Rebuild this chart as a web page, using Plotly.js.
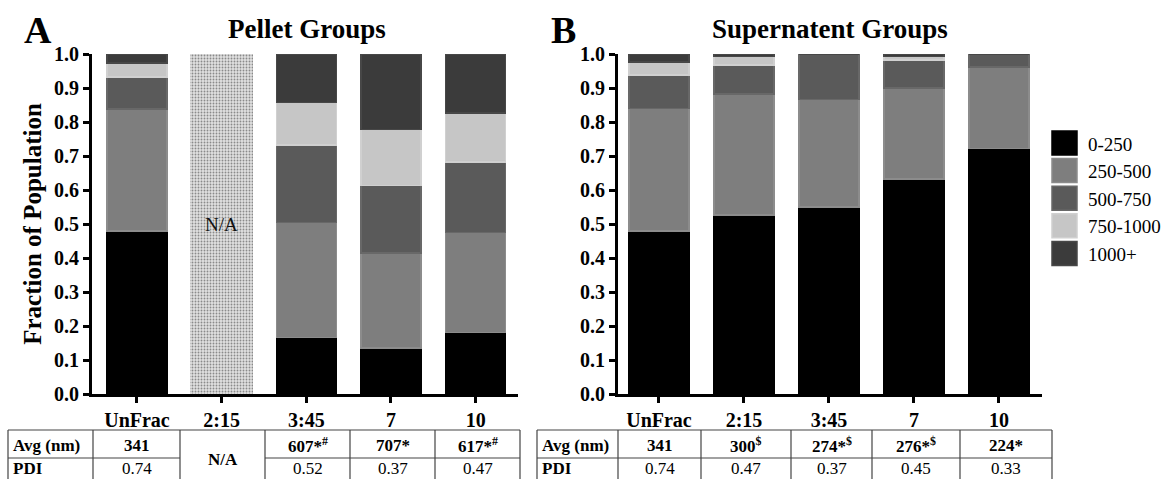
<!DOCTYPE html>
<html>
<head>
<meta charset="utf-8">
<script src="https://cdn.plot.ly/plotly-3.0.1.min.js"></script>
<style>html,body{margin:0;padding:0;background:#fff;}#chart{width:1162px;height:479px;}</style>
</head>
<body>
<div id="chart"></div>
<script>
// ---------------- DATA ----------------
const categories = ["UnFrac", "2:15", "3:45", "7", "10"];
const sizeBins = ["0-250", "250-500", "500-750", "750-1000", "1000+"];
const binColors = ["#000000", "#7e7e7e", "#5a5a5a", "#c6c6c6", "#3b3b3b"];
const binEdgeColors = ["#000000", "#8c8c8c", "#686868", "#d0d0d0", "#474747"];

// Pellet groups (2:15 not available)
const pellet_0_250     = [0.480, null, 0.166, 0.136, 0.181];
const pellet_250_500   = [0.358, null, 0.338, 0.278, 0.294];
const pellet_500_750   = [0.095, null, 0.228, 0.199, 0.208];
const pellet_750_1000  = [0.040, null, 0.126, 0.165, 0.144];
const pellet_1000plus  = [0.027, null, 0.142, 0.222, 0.173];
const pelletNA         = [null, 1.0, null, null, null];

// Supernatent groups
const super_0_250      = [0.480, 0.527, 0.550, 0.632, 0.722];
const super_250_500    = [0.360, 0.355, 0.316, 0.268, 0.240];
const super_500_750    = [0.098, 0.086, 0.134, 0.082, 0.038];
const super_750_1000   = [0.039, 0.025, 0.000, 0.011, 0.000];
const super_1000plus   = [0.023, 0.007, 0.000, 0.007, 0.000];

// Table rows
const rowLabels = ["Avg (nm)", "PDI"];
const pelletAvg = ["341", "N/A", "607*<sup>#</sup>", "707*", "617*<sup>#</sup>"];
const pelletPDI = ["0.74", "N/A", "0.52", "0.37", "0.47"];
const superAvg  = ["341", "300<sup>$</sup>", "274*<sup>$</sup>", "276*<sup>$</sup>", "224*"];
const superPDI  = ["0.74", "0.47", "0.37", "0.45", "0.33"];

// ---------------- LAYOUT HELPERS ----------------
const W = 1162, H = 479;
const px = x => x / W;
const py = y => 1 - y / H;
const SERIF = "'Liberation Serif', 'Times New Roman', Times, serif";

const pelletSeries = [pellet_0_250, pellet_250_500, pellet_500_750, pellet_750_1000, pellet_1000plus];
const superSeries  = [super_0_250, super_250_500, super_500_750, super_750_1000, super_1000plus];

const traces = [];
function addBars(series, xa, ya) {
  series.forEach((vals, i) => {
    traces.push({
      type: "bar", x: categories, y: vals, name: sizeBins[i],
      xaxis: xa, yaxis: ya, width: 0.71, showlegend: false,
      marker: { color: binColors[i], line: { color: binEdgeColors[i], width: 1.5 } },
      hoverinfo: "x+y+name"
    });
  });
}
addBars(pelletSeries, "x", "y");
traces.push({
  type: "bar", x: categories, y: pelletNA, name: "N/A", xaxis: "x", yaxis: "y",
  width: 0.75, showlegend: false,
  marker: { color: "#e0e0e0", line: { width: 0 },
            pattern: { shape: ".", fgcolor: "#8a8a8a", bgcolor: "#e0e0e0", size: 3, solidity: 0.3 } }
});
addBars(superSeries, "x2", "y2");

const yTicks = [0, 0.1, 0.2, 0.3, 0.4, 0.5, 0.6, 0.7, 0.8, 0.9, 1.0];
const axisY = (domain) => ({
  domain: domain, range: [0, 1.0], tickvals: yTicks, tickformat: ".1f",
  showgrid: false, zeroline: false, showline: true, linecolor: "#000", linewidth: 3,
  ticks: "outside", ticklen: 6, tickwidth: 3, tickcolor: "#000",
  tickfont: { family: SERIF, size: 20, color: "#000", weight: "bold" }
});
const axisX = (domain, range, anchor) => ({
  domain: domain, range: range, anchor: anchor, type: "category",
  showgrid: false, zeroline: false, showline: true, linecolor: "#000", linewidth: 3,
  ticks: "outside", ticklen: 6, tickwidth: 3, tickcolor: "#000",
  tickfont: { family: SERIF, size: 20, color: "#000", weight: "bold" }
});

const yDom = [py(394), py(54)];
const layout = {
  width: W, height: H,
  margin: { l: 0, r: 0, t: 0, b: 0 },
  paper_bgcolor: "#fff", plot_bgcolor: "#fff",
  barmode: "stack", bargap: 0.29, showlegend: false,
  font: { family: SERIF, color: "#000" },
  xaxis: axisX([px(92), px(518)], [-0.531, 4.50], "y"),
  yaxis: Object.assign(axisY(yDom), { anchor: "x",
    title: { text: "Fraction of Population", standoff: 6,
             font: { family: SERIF, size: 25, color: "#000", weight: "bold" } } }),
  xaxis2: axisX([px(618), px(1042)], [-0.482, 4.506], "y2"),
  yaxis2: Object.assign(axisY(yDom), { anchor: "x2" }),
  shapes: [], annotations: []
};

// Panel titles and letters
layout.annotations.push(
  { xref: "paper", yref: "paper", x: px(307), y: py(29), text: "Pellet Groups", showarrow: false,
    font: { family: SERIF, size: 27, weight: "bold" }, xanchor: "center", yanchor: "middle" },
  { xref: "paper", yref: "paper", x: px(830), y: py(29), text: "Supernatent Groups", showarrow: false,
    font: { family: SERIF, size: 27, weight: "bold" }, xanchor: "center", yanchor: "middle" },
  { xref: "paper", yref: "paper", x: px(38), y: py(30), text: "A", showarrow: false,
    font: { family: SERIF, size: 38, weight: "bold" }, xanchor: "center", yanchor: "middle" },
  { xref: "paper", yref: "paper", x: px(563), y: py(30), text: "B", showarrow: false,
    font: { family: SERIF, size: 38, weight: "bold" }, xanchor: "center", yanchor: "middle" },
  { xref: "x", yref: "y", x: categories[1], y: 0.5, text: "N/A", showarrow: false,
    font: { family: SERIF, size: 19, color: "#111" }, xanchor: "center", yanchor: "middle" }
);

// Legend (drawn from the series names/colours)
sizeBins.forEach((name, i) => {
  const cy = 143 + i * 27.6;
  layout.shapes.push({ type: "rect", xref: "paper", yref: "paper",
    x0: px(1052), x1: px(1077), y0: py(cy - 12), y1: py(cy + 12),
    fillcolor: binColors[i], line: { color: binEdgeColors[i], width: 1.5 } });
  layout.annotations.push({ xref: "paper", yref: "paper", x: px(1086), y: py(cy + 1), text: name,
    showarrow: false, xanchor: "left", yanchor: "middle",
    font: { family: SERIF, size: 19, color: "#000" } });
});

// Tables
function addTable(edges, avg, pdi, mergeNA) {
  const top = 430, mid = 458, bot = 487;
  const lc = "#444", lw = 1.2;
  layout.shapes.push({ type: "line", xref: "paper", yref: "paper", x0: px(edges[0]), x1: px(edges[6]), y0: py(top), y1: py(top), line: { color: lc, width: lw } });
  layout.shapes.push({ type: "line", xref: "paper", yref: "paper", x0: px(edges[0]), x1: px(edges[6]), y0: py(bot), y1: py(bot), line: { color: lc, width: lw } });
  for (let c = 0; c < 6; c++) {
    if (mergeNA && avg[c - 1] === "N/A") continue;
    layout.shapes.push({ type: "line", xref: "paper", yref: "paper", x0: px(edges[c]), x1: px(edges[c + 1]), y0: py(mid), y1: py(mid), line: { color: lc, width: lw } });
  }
  edges.forEach(e => layout.shapes.push({ type: "line", xref: "paper", yref: "paper", x0: px(e), x1: px(e), y0: py(top), y1: py(bot), line: { color: lc, width: lw } }));
  rowLabels.forEach((lab, r) => layout.annotations.push({ xref: "paper", yref: "paper",
    x: px(edges[0] + 3), y: py(r === 0 ? 445 : 468), text: "<b>" + lab + "</b>", showarrow: false,
    xanchor: "left", yanchor: "middle", font: { family: SERIF, size: 17, color: "#000" } }));
  for (let c = 0; c < 5; c++) {
    const cx = (edges[c + 1] + edges[c + 2]) / 2;
    if (mergeNA && avg[c] === "N/A") {
      layout.annotations.push({ xref: "paper", yref: "paper", x: px(cx), y: py(459), text: "<b>N/A</b>",
        showarrow: false, xanchor: "center", yanchor: "middle", font: { family: SERIF, size: 17, color: "#000" } });
      continue;
    }
    layout.annotations.push({ xref: "paper", yref: "paper", x: px(cx), y: py(445), text: "<b>" + avg[c] + "</b>",
      showarrow: false, xanchor: "center", yanchor: "middle", font: { family: SERIF, size: 17, color: "#000" } });
    layout.annotations.push({ xref: "paper", yref: "paper", x: px(cx), y: py(468), text: pdi[c],
      showarrow: false, xanchor: "center", yanchor: "middle", font: { family: SERIF, size: 17, color: "#000" } });
  }
}
addTable([8, 93, 180, 265, 350, 435, 520], pelletAvg, pelletPDI, true);
addTable([537, 618, 701, 791, 872, 960, 1052], superAvg, superPDI, false);

Plotly.newPlot("chart", traces, layout, { displayModeBar: false, staticPlot: true });
</script>
</body>
</html>
